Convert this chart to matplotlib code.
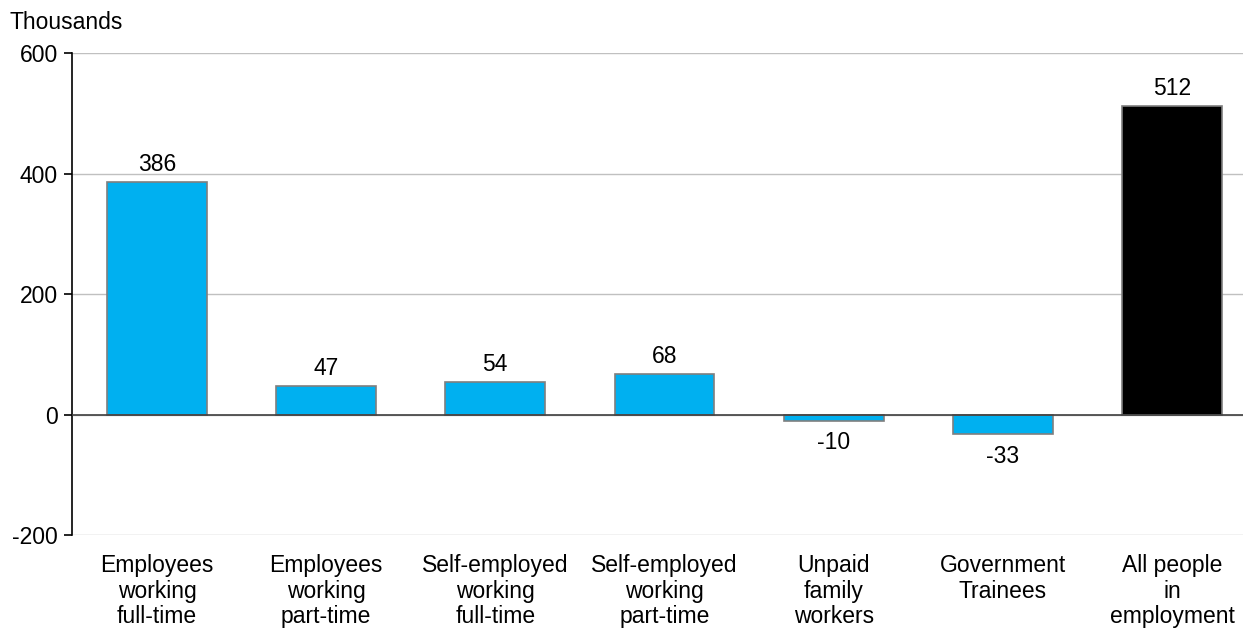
import matplotlib.pyplot as plt

categories = ["Employees\nworking\nfull-time", "Employees\nworking\npart-time",
              "Self-employed\nworking\nfull-time", "Self-employed\nworking\npart-time",
              "Unpaid\nfamily\nworkers", "Government\nTrainees", "All people\nin\nemployment"]
values = [386, 47, 54, 68, -10, -33, 512]
colors = ["#00B0F0"] * 6 + ["#000000"]

plt.rcParams['font.family'] = ['Liberation Sans', 'DejaVu Sans']
plt.rcParams['axes.unicode_minus'] = False
fs = 16.5

fig = plt.figure(figsize=(12.5, 6.29), dpi=100)
ax = fig.add_axes([0.0576, 0.1494, 0.9368, 0.7663])

x = range(len(values))
ax.bar(x, values, width=0.59, color=colors, edgecolor="#7f7f7f", linewidth=1.2, zorder=3)

for i, v in enumerate(values):
    if v >= 0:
        ax.text(i, v + 10, str(v), ha="center", va="bottom", fontsize=fs)
    else:
        ax.text(i, v - 17, str(v), ha="center", va="top", fontsize=fs)

ax.set_xlim(-0.502, 6.42)
ax.set_ylim(-200, 600)
ax.set_yticks([-200, 0, 200, 400, 600])
ax.yaxis.grid(True, color="#c0c0c0", linewidth=1)
ax.set_axisbelow(True)
ax.axhline(0, color="#404040", linewidth=1.2, zorder=4)

ax.set_xticks(list(x))
ax.set_xticklabels(categories, fontsize=fs, linespacing=1.12)
ax.tick_params(axis="x", length=0, pad=14)
ax.tick_params(axis="y", length=6, width=1.2, labelsize=fs, direction="out", pad=4)
for s in ["top", "right", "bottom"]:
    ax.spines[s].set_visible(False)
ax.spines["left"].set_linewidth(1.2)

fig.text(0.008, 0.965, "Thousands", fontsize=fs, ha="left", va="center")

fig.savefig("out.png", dpi=100)
